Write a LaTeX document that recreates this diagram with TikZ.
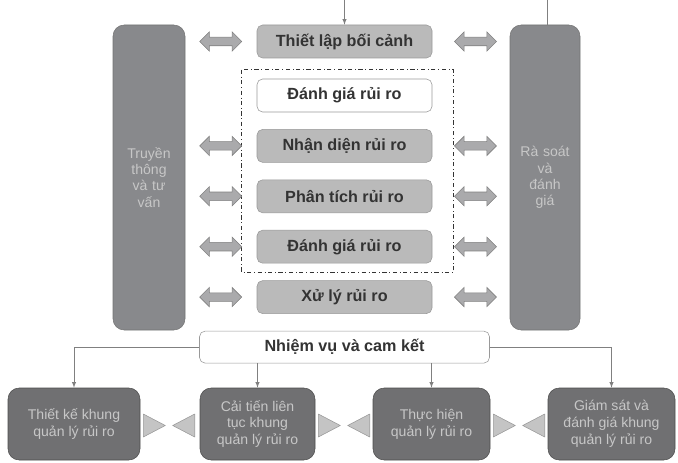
\documentclass[tikz,border=0pt]{standalone}
\usepackage{fontspec}
\setmainfont{Liberation Sans}
\usetikzlibrary{shapes.arrows}
\pgfdeclarelayer{background}
\pgfsetlayers{background,main}
\definecolor{columngray}{RGB}{136,137,140}
\definecolor{stepgray}{RGB}{186,186,186}
\definecolor{framegray}{RGB}{112,112,114}
\definecolor{arrowgray}{RGB}{170,170,172}
\definecolor{pointergray}{RGB}{196,196,196}
\tikzstyle{stepstyle}=[draw=black!40, fill=stepgray, text=black!80, inner sep=0pt,
  font=\fontsize{11.5}{13}\selectfont\bfseries, rounded corners=4pt,
  minimum width=4.375cm, minimum height=0.825cm]
\tikzstyle{riskstep} = [stepstyle]
\tikzstyle{whitestep} = [stepstyle, fill=white]
\tikzstyle{column} = [draw=black!55, fill=columngray, text=black!22, text width=1.5cm,
  align=center, minimum height=7.625cm, rounded corners=8pt, font=\fontsize{10}{11.5}\selectfont]
\tikzstyle{framebox} = [draw=black!70, fill=framegray, text=black!22, align=center,
  minimum height=1.8cm, rounded corners=8pt, font=\fontsize{10}{12}\selectfont]
\tikzstyle{darrow} = [double arrow, draw=black!50, fill=arrowgray, inner sep=0.1cm,
  minimum height=1.05cm, minimum width=0.47cm, double arrow head extend=0.135cm]
\tikzstyle{pointer} = [draw=black!40, fill=pointergray, line join=round]
\tikzstyle{riskframe} = [draw=black!80, dash dot]
\tikzstyle{feed} = [draw, color=black!50, -latex]
\newcommand{\riskstep}[3]{node (s#1) [#2] {#3}}
\newcommand{\fwbox}[3]{node (f#1) [framebox, minimum width=#2] {#3}}
% right and left pointing triangles from a corner coordinate
\newcommand{\rpointer}[1]{\draw [pointer] (#1) -- ++(0.55,-0.2875) -- ++(-0.55,-0.2875) -- cycle;}
\newcommand{\lpointer}[1]{\draw [pointer] (#1) -- ++(-0.55,-0.2875) -- ++(0.55,-0.2875) -- cycle;}

\begin{document}
\begin{tikzpicture}
\useasboundingbox (0,0) rectangle (16.95,-11.55);
% Draw the process steps
\path (8.6125,-1.0375) \riskstep{1}{riskstep}{Thiết lập bối cảnh};
\path (s1) + (0,-1.35) \riskstep{2}{whitestep}{Đánh giá rủi ro};
\path (s2) + (0,-1.26) \riskstep{3}{riskstep}{Nhận diện rủi ro};
\path (s3) + (0,-1.26) \riskstep{4}{riskstep}{Phân tích rủi ro};
\path (s4) + (0,-1.26) \riskstep{5}{riskstep}{Đánh giá rủi ro};
\path (s5) + (0,-1.26) \riskstep{6}{riskstep}{Xử lý rủi ro};

% Side columns
\path (3.725,-4.4375) node (c1) [column, minimum width=1.8cm] {Truyền\\thông\\và tư\\vấn};
\path (13.625,-4.4375) node (c2) [column, minimum width=1.75cm] {Rà soát\\và\\đánh\\giá};

% Double arrows between steps and columns
\path (s1.west) + (-0.9,0) node (l1) [darrow] {};
\path (s3.west) + (-0.9,0) node (l3) [darrow] {};
\path (s4.west) + (-0.9,0) node (l4) [darrow] {};
\path (s5.west) + (-0.9,0) node (l5) [darrow] {};
\path (s6.west) + (-0.9,0) node (l6) [darrow] {};
\path (s1.east) + (1.08,0) node (r1) [darrow] {};
\path (s3.east) + (1.08,0) node (r3) [darrow] {};
\path (s4.east) + (1.08,0) node (r4) [darrow] {};
\path (s5.east) + (1.08,0) node (r5) [darrow] {};
\path (s6.east) + (1.08,0) node (r6) [darrow] {};

% Frame round the assessment steps
\begin{pgfonlayer}{background}
  \path (s2.west |- s2.north) + (-0.375,0.225) coordinate (fa);
  \path (s5.east |- s5.south) + (0.525,-0.22) coordinate (fb);
  \draw [riskframe] (fa) rectangle (fb);
\end{pgfonlayer}

% Mandate and framework
\path (s6) + (0,-1.25) node (nv) [whitestep, minimum width=7.25cm, minimum height=0.8cm] {Nhiệm vụ và cam kết};
\path (1.85,-10.6) \fwbox{1}{3.3cm}{Thiết kế khung\\quản lý rủi ro};
\path (f1) + (4.5875,0) \fwbox{2}{2.875cm}{Cải tiến liên\\tục khung\\quản lý rủi ro};
\path (f2) + (4.35,0) \fwbox{3}{2.925cm}{Thực hiện\\quản lý rủi ro};
\path (f3) + (4.5,0) \fwbox{4}{3.175cm}{Giám sát và\\đánh giá khung\\quản lý rủi ro};

% Pointers between framework boxes
\path (f1.east) + (0.075,0.25) coordinate (t1);
\path (f2.west) + (-0.125,0.25) coordinate (t2);
\path (f2.east) + (0.075,0.25) coordinate (t3);
\path (f3.west) + (-0.075,0.25) coordinate (t4);
\path (f3.east) + (0.075,0.25) coordinate (t5);
\path (f4.west) + (-0.075,0.25) coordinate (t6);
\rpointer{t1} \rpointer{t3} \rpointer{t5}
\lpointer{t2} \lpointer{t4} \lpointer{t6}

% Draw connectors
\path (s1.north) + (0,0.625) coordinate (top1);
\path (c2.north) + (0.05,0.625) coordinate (top2);
\path [feed] (top1) -- (s1.north);
\draw [color=black!50] (top2) -- (top2 |- c2.north);
\path [feed] (nv.west) -| (f1.north);
\path [feed] (nv.east) -| (f4.north);
\path [feed] (nv.south -| f2.north) -- (f2.north);
\path [feed] (nv.south -| f3.north) -- (f3.north);
\end{tikzpicture}
\end{document}
